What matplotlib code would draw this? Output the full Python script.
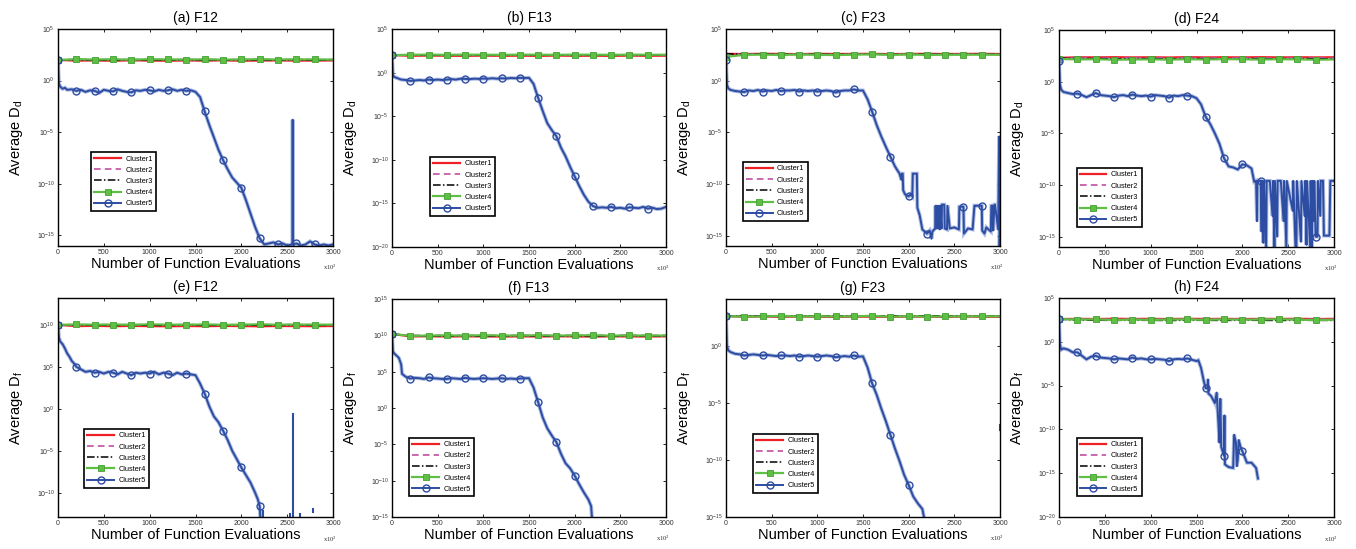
import matplotlib
matplotlib.use("Agg")
import matplotlib.pyplot as plt
import matplotlib.ticker as mticker
import numpy as np

plt.rcParams['font.family'] = ['Liberation Sans', 'DejaVu Sans']
plt.rcParams['mathtext.default'] = 'regular'

# ---------------- data (log10 of the plotted values) ----------------
TOP_X = [0, 200, 400, 600, 800, 1000, 1200, 1400, 1600, 1800, 2000, 2200, 2400, 2600, 2800, 3000]

# (a) F12  D_d
A_C1 = [2.0, 1.93, 1.95, 1.92, 1.96, 1.94, 1.92, 1.95, 1.93, 1.96, 1.92, 1.94, 1.95, 1.93, 1.94, 1.95]
A_C2 = [2.0, 2.04, 2.02, 2.05, 2.03, 2.04, 2.02, 2.05, 2.03, 2.04, 2.02, 2.05, 2.03, 2.04, 2.02, 2.03]
A_C3 = [2.0, 1.98, 2.0, 1.97, 1.99, 2.0, 1.98, 1.97, 2.0, 1.99, 1.98, 2.0, 1.97, 1.99, 1.98, 2.0]
A_C4 = [2.0, 2.08, 2.04, 2.06, 2.03, 2.07, 2.05, 2.04, 2.06, 2.03, 2.05, 2.07, 2.04, 2.06, 2.05, 2.04]
A_X5 = [0, 10, 25, 50, 75, 100, 150, 200, 250, 300, 350, 400, 450, 500, 550, 600, 650, 700, 750, 800,
        850, 900, 950, 1000, 1050, 1100, 1150, 1200, 1250, 1300, 1350, 1400, 1450, 1500, 1550, 1600,
        1650, 1700, 1750, 1800, 1850, 1900, 1950, 2000, 2050, 2100, 2150, 2200, 2250, 2300, 2350, 2400,
        2450, 2500, 2550, 2558, 2560, 2562, 2600, 2650, 2700, 2750, 2800, 2850, 2900, 2950, 3000]
A_Y5 = [2.0, -0.3, -0.6, -0.8, -0.7, -0.9, -0.85, -1.0, -0.9, -1.1, -0.95, -1.0, -1.2, -0.9, -1.0,
        -1.05, -0.85, -1.0, -1.1, -1.15, -0.95, -1.0, -0.9, -0.95, -1.05, -0.9, -1.0, -0.95, -0.85,
        -1.0, -0.9, -1.0, -0.95, -1.1, -1.6, -3.0, -4.3, -5.5, -6.7, -7.7, -8.6, -9.4, -9.9, -10.4,
        -11.6, -12.9, -14.2, -15.3, -15.9, -15.8, -15.7, -15.9, -15.8, -16.0, -15.9, -15.9, -3.8,
        -15.9, -15.8, -16.0, -15.9, -15.6, -15.9, -16.0, -15.9, -16.0, -15.9]

# (b) F13  D_d
B_C1 = [2.0, 1.93, 1.95, 1.94, 1.92, 1.95, 1.93, 1.94, 1.92, 1.95, 1.93, 1.94, 1.92, 1.95, 1.93, 1.94]
B_C2 = [2.0, 2.03, 2.02, 2.04, 2.03, 2.02, 2.04, 2.03, 2.02, 2.04, 2.03, 2.02, 2.04, 2.03, 2.02, 2.03]
B_C3 = [2.0, 1.99, 2.0, 1.98, 2.0, 1.99, 1.98, 2.0, 1.99, 2.0, 1.98, 1.99, 2.0, 1.98, 1.99, 2.0]
B_C4 = [2.0, 2.05, 2.06, 2.04, 2.06, 2.05, 2.04, 2.06, 2.05, 2.04, 2.06, 2.05, 2.04, 2.06, 2.05, 2.05]
B_X5 = [0, 10, 25, 50, 100, 150, 200, 250, 300, 350, 400, 450, 500, 550, 600, 650, 700, 750, 800, 850,
        900, 950, 1000, 1050, 1100, 1150, 1200, 1250, 1300, 1350, 1400, 1450, 1500, 1550, 1600, 1650,
        1700, 1750, 1800, 1850, 1900, 1950, 2000, 2050, 2100, 2150, 2200, 2250, 2300, 2350, 2400, 2450,
        2500, 2550, 2600, 2650, 2700, 2750, 2800, 2850, 2900, 2950, 3000]
B_Y5 = [2.0, -0.3, -0.5, -0.6, -0.8, -0.85, -0.95, -0.9, -0.85, -0.9, -0.8, -0.85, -0.8, -0.85, -0.8,
        -0.75, -0.8, -0.7, -0.72, -0.75, -0.7, -0.72, -0.68, -0.7, -0.65, -0.7, -0.65, -0.68, -0.62,
        -0.65, -0.6, -0.62, -0.6, -1.3, -2.9, -4.4, -5.8, -6.6, -7.3, -8.6, -9.6, -10.8, -11.9, -13.0,
        -14.0, -14.8, -15.3, -15.5, -15.45, -15.5, -15.4, -15.55, -15.5, -15.6, -15.45, -15.5, -15.55,
        -15.4, -15.6, -15.5, -15.65, -15.6, -15.4]

# (c) F23  D_d
C_C1 = [2.6, 2.58, 2.6, 2.59, 2.57, 2.6, 2.58, 2.59, 2.6, 2.57, 2.59, 2.6, 2.58, 2.59, 2.6, 2.58]
C_C2 = [2.6, 2.56, 2.55, 2.57, 2.55, 2.56, 2.54, 2.57, 2.55, 2.56, 2.54, 2.56, 2.55, 2.57, 2.55, 2.56]
C_C3 = [2.6, 2.55, 2.56, 2.54, 2.56, 2.55, 2.53, 2.56, 2.55, 2.54, 2.56, 2.55, 2.54, 2.56, 2.55, 2.54]
C_C4 = [2.3, 2.5, 2.52, 2.49, 2.53, 2.5, 2.48, 2.51, 2.55, 2.5, 2.53, 2.49, 2.51, 2.5, 2.52, 2.5]
C_X5 = [0, 10, 25, 50, 100, 150, 200, 250, 300, 350, 400, 450, 500, 550, 600, 650, 700, 750, 800, 850,
        900, 950, 1000, 1050, 1100, 1150, 1200, 1250, 1300, 1350, 1400, 1450, 1500, 1550, 1600, 1650,
        1700, 1750, 1800, 1850, 1900, 1920, 1925, 1935, 1940, 1960, 2000, 2020, 2040, 2045, 2090, 2095,
        2120, 2150, 2200, 2230, 2250, 2260, 2290, 2295, 2300, 2305, 2320, 2325, 2340, 2345, 2360, 2365,
        2390, 2395, 2420, 2425, 2450, 2500, 2550, 2555, 2600, 2605, 2650, 2700, 2720, 2725, 2800, 2805,
        2830, 2850, 2900, 2905, 2920, 2925, 2940, 2945, 2980, 2990, 2995, 3000]
C_Y5 = [2.0, -0.4, -0.74, -0.9, -1.0, -1.05, -1.1, -0.95, -1.0, -0.9, -1.05, -0.95, -1.0, -0.9, -1.0,
        -0.95, -0.95, -0.9, -1.05, -0.95, -1.0, -0.95, -1.05, -1.0, -0.95, -1.0, -1.15, -1.0, -0.95,
        -0.95, -0.85, -0.95, -0.95, -1.8, -3.0, -4.3, -5.4, -6.4, -7.35, -8.3, -9.0, -9.6, -9.0, -9.0,
        -10.6, -11.0, -11.2, -11.0, -11.2, -9.0, -9.0, -12.3, -13.0, -14.4, -14.8, -14.5, -15.3, -14.6,
        -14.3, -12.1, -14.3, -12.1, -14.3, -12.1, -14.4, -12.1, -14.3, -12.0, -12.0, -14.3, -14.4,
        -12.1, -14.3, -14.2, -14.4, -12.2, -12.2, -14.8, -14.3, -14.4, -12.1, -12.1, -12.1, -14.5,
        -14.8, -14.2, -14.6, -12.1, -12.1, -14.5, -12.0, -12.0, -14.4, -5.4, -16.2, -14.3]

# (d) F24  D_d
D_C1 = [2.3, 2.36, 2.35, 2.37, 2.35, 2.36, 2.34, 2.37, 2.35, 2.36, 2.35, 2.37, 2.35, 2.36, 2.35, 2.36]
D_C2 = [2.3, 2.3, 2.31, 2.29, 2.31, 2.3, 2.29, 2.31, 2.3, 2.29, 2.31, 2.3, 2.29, 2.31, 2.3, 2.3]
D_C3 = [2.3, 2.22, 2.24, 2.21, 2.23, 2.22, 2.2, 2.23, 2.22, 2.21, 2.23, 2.22, 2.2, 2.23, 2.22, 2.21]
D_C4 = [2.2, 2.15, 2.17, 2.12, 2.14, 2.16, 2.13, 2.17, 2.14, 2.18, 2.16, 2.14, 2.17, 2.16, 2.12, 2.15]
D_X5 = [0, 10, 25, 50, 100, 150, 200, 250, 300, 350, 400, 450, 500, 550, 600, 650, 700, 750, 800, 850,
        900, 950, 1000, 1050, 1100, 1150, 1200, 1250, 1300, 1350, 1400, 1450, 1500, 1550, 1600, 1650,
        1700, 1750, 1800, 1850, 1900, 1950, 2000, 2050, 2100, 2130, 2150, 2160, 2165, 2200, 2210, 2215,
        2230, 2235, 2260, 2265, 2300, 2330, 2335, 2350, 2355, 2380, 2385, 2420, 2450, 2455, 2480, 2485,
        2550, 2555, 2580, 2590, 2595, 2640, 2645, 2680, 2685, 2700, 2705, 2740, 2745, 2760, 2765, 2780,
        2785, 2800, 2820, 2825, 2850, 2855, 2880, 2890, 2950, 2960, 3000]
D_Y5 = [2.0, -0.3, -0.8, -1.0, -1.1, -1.2, -1.15, -1.3, -1.5, -1.3, -1.1, -1.3, -1.35, -1.4, -1.5,
        -1.35, -1.3, -1.4, -1.25, -1.35, -1.4, -1.35, -1.45, -1.3, -1.35, -1.4, -1.55, -1.35, -1.4,
        -1.3, -1.35, -1.4, -1.6, -2.2, -3.4, -4.1, -5.0, -6.0, -7.4, -8.2, -8.3, -8.5, -8.0, -8.1,
        -8.4, -9.7, -9.6, -13.5, -9.6, -9.6, -14.5, -9.6, -15.6, -9.6, -16.0, -9.6, -9.6, -13.0, -9.6,
        -16.0, -9.6, -15.0, -9.6, -9.6, -13.5, -9.6, -16.0, -9.6, -12.5, -9.6, -16.0, -16.0, -9.6,
        -15.5, -9.6, -13.0, -9.6, -15.8, -9.6, -16.0, -9.6, -16.0, -9.6, -13.5, -9.6, -15.0, -15.0,
        -9.6, -13.0, -9.6, -9.6, -14.9, -14.9, -9.6, -9.6]

# (e) F12  D_f
E_C1 = [10.0, 9.85, 9.88, 9.84, 9.87, 9.85, 9.83, 9.86, 9.84, 9.87, 9.85, 9.83, 9.86, 9.85, 9.84, 9.86]
E_C2 = [10.0, 10.02, 10.0, 10.03, 10.01, 10.02, 10.0, 10.03, 10.01, 10.02, 10.0, 10.02, 10.01, 10.03, 10.0, 10.02]
E_C3 = [10.0, 9.95, 9.97, 9.94, 9.96, 9.95, 9.93, 9.96, 9.95, 9.94, 9.96, 9.95, 9.93, 9.96, 9.95, 9.94]
E_C4 = [10.0, 10.05, 10.02, 10.04, 10.01, 10.06, 10.03, 10.02, 10.05, 10.01, 10.03, 10.06, 10.02, 10.04, 10.03, 10.02]
E_X5 = [0, 10, 25, 50, 75, 100, 125, 150, 175, 200, 250, 300, 350, 400, 450, 500, 550, 600, 650, 700,
        750, 800, 850, 900, 950, 1000, 1050, 1100, 1150, 1200, 1250, 1300, 1350, 1400, 1450, 1500, 1550,
        1600, 1650, 1700, 1750, 1800, 1850, 1900, 1950, 2000, 2050, 2100, 2150, 2180, 2200, 2210]
E_Y5 = [10.0, 8.5, 8.0, 7.7, 7.2, 6.6, 6.2, 5.7, 5.4, 5.0, 4.7, 4.4, 4.5, 4.3, 4.4, 4.2, 4.4, 4.3, 4.1,
        4.4, 4.2, 4.0, 4.3, 4.2, 4.3, 4.2, 4.4, 4.1, 4.3, 4.2, 4.0, 4.3, 4.1, 4.2, 4.1, 4.0, 3.0, 1.8,
        0.3, -0.9, -1.6, -2.6, -3.7, -5.0, -6.0, -7.0, -7.9, -8.8, -10.0, -10.8, -11.6, -13.5]
# short fragments near the bottom of (e)
E_FRAG_X = [2240, 2530, 2560, 2640, 2780]
E_FRAG_LO = [-13.0, -13.0, -13.0, -13.0, -12.3]
E_FRAG_HI = [-12.2, -12.5, -0.6, -12.5, -11.9]

# (f) F13  D_f
F_C1 = [10.2, 9.85, 9.87, 9.84, 9.86, 9.85, 9.83, 9.86, 9.84, 9.87, 9.85, 9.83, 9.86, 9.85, 9.84, 9.86]
F_C2 = [10.2, 10.0, 9.98, 10.02, 9.99, 10.01, 9.98, 10.02, 10.0, 9.99, 10.01, 9.98, 10.0, 10.02, 9.99, 10.0]
F_C3 = [10.2, 9.9, 9.92, 9.89, 9.91, 9.9, 9.88, 9.91, 9.9, 9.89, 9.91, 9.9, 9.88, 9.91, 9.9, 9.89]
F_C4 = [10.2, 9.93, 9.97, 10.0, 9.96, 10.02, 9.97, 9.98, 10.01, 9.97, 9.99, 10.02, 9.96, 10.0, 9.97, 9.98]
F_X5 = [0, 10, 25, 50, 75, 100, 110, 150, 200, 250, 300, 350, 400, 450, 500, 550, 600, 650, 700, 750,
        800, 850, 900, 950, 1000, 1050, 1100, 1150, 1200, 1250, 1300, 1350, 1400, 1450, 1500, 1550, 1600,
        1650, 1700, 1750, 1800, 1850, 1900, 1950, 2000, 2050, 2100, 2150, 2180, 2190]
F_Y5 = [10.2, 7.8, 7.5, 7.2, 6.9, 6.0, 4.7, 4.3, 4.05, 4.15, 4.1, 4.0, 4.2, 4.1, 4.05, 4.0, 4.0, 4.1,
        4.05, 4.0, 4.15, 4.05, 4.0, 4.05, 4.1, 4.05, 4.0, 4.05, 4.1, 4.0, 4.05, 4.0, 4.05, 4.1, 4.1, 2.8,
        0.8, -1.3, -2.8, -3.8, -4.7, -6.3, -7.6, -8.3, -9.3, -10.5, -11.6, -12.6, -13.5, -15.2]

# (g) F23  D_f
G_C1 = [2.6, 2.55, 2.57, 2.54, 2.56, 2.55, 2.53, 2.56, 2.55, 2.54, 2.56, 2.55, 2.53, 2.56, 2.55, 2.54]
G_C2 = [2.6, 2.58, 2.6, 2.57, 2.59, 2.58, 2.6, 2.57, 2.59, 2.58, 2.6, 2.58, 2.57, 2.59, 2.58, 2.6]
G_C3 = [2.6, 2.63, 2.61, 2.64, 2.62, 2.63, 2.61, 2.64, 2.62, 2.63, 2.61, 2.63, 2.62, 2.64, 2.61, 2.63]
G_C4 = [2.6, 2.55, 2.58, 2.62, 2.56, 2.6, 2.57, 2.58, 2.63, 2.55, 2.6, 2.56, 2.58, 2.57, 2.59, 2.58]
G_X5 = [0, 10, 25, 50, 100, 150, 200, 250, 300, 350, 400, 450, 500, 550, 600, 650, 700, 750, 800, 850,
        900, 950, 1000, 1050, 1100, 1150, 1200, 1250, 1300, 1350, 1400, 1450, 1500, 1550, 1600, 1650,
        1700, 1750, 1800, 1850, 1900, 1950, 2000, 2050, 2100, 2150, 2170]
G_Y5 = [2.6, 0.0, -0.4, -0.55, -0.7, -0.75, -0.85, -0.8, -0.75, -0.8, -0.85, -0.8, -0.85, -0.9, -0.85,
        -0.85, -0.9, -0.85, -0.95, -0.9, -0.85, -0.9, -0.95, -0.9, -0.85, -0.9, -1.0, -0.95, -0.9, -0.95,
        -0.85, -0.95, -0.93, -1.9, -3.3, -4.3, -5.5, -6.6, -7.8, -9.0, -10.1, -11.3, -12.2, -13.2, -13.8,
        -14.3, -15.1]
G_FRAG_X = [2995]
G_FRAG_LO = [-7.4]
G_FRAG_HI = [-6.9]

# (h) F24  D_f
H_C1 = [2.6, 2.62, 2.6, 2.63, 2.61, 2.62, 2.6, 2.63, 2.61, 2.62, 2.6, 2.62, 2.61, 2.63, 2.6, 2.62]
H_C2 = [2.6, 2.58, 2.57, 2.59, 2.57, 2.58, 2.56, 2.59, 2.57, 2.58, 2.56, 2.58, 2.57, 2.59, 2.57, 2.58]
H_C3 = [2.6, 2.45, 2.47, 2.44, 2.46, 2.45, 2.43, 2.46, 2.45, 2.44, 2.46, 2.45, 2.43, 2.46, 2.45, 2.44]
H_C4 = [2.6, 2.52, 2.56, 2.48, 2.54, 2.5, 2.53, 2.55, 2.5, 2.56, 2.52, 2.54, 2.57, 2.52, 2.48, 2.52]
H_X5 = [0, 10, 25, 50, 100, 150, 200, 250, 300, 350, 400, 450, 500, 550, 600, 650, 700, 750, 800, 850,
        900, 950, 1000, 1050, 1100, 1150, 1200, 1250, 1300, 1350, 1400, 1450, 1500, 1520, 1550, 1580,
        1600, 1620, 1625, 1630, 1660, 1700, 1720, 1740, 1750, 1760, 1770, 1800, 1805, 1810, 1850, 1900,
        1910, 1930, 1940, 1950, 1960, 1980, 2000, 2020, 2050, 2100, 2150, 2170]
H_Y5 = [2.6, -0.3, -0.9, -0.75, -0.9, -1.2, -1.2, -1.6, -2.0, -1.7, -1.6, -1.8, -1.85, -1.9, -2.0,
        -1.9, -1.95, -2.0, -1.8, -1.95, -1.9, -2.0, -2.0, -1.95, -2.0, -2.05, -2.2, -2.0, -1.95, -2.0,
        -1.9, -2.05, -2.2, -2.1, -3.0, -4.5, -5.3, -5.3, -4.3, -5.9, -6.2, -7.0, -5.8, -9.5, -11.5,
        -6.5, -12.0, -13.0, -8.4, -14.0, -14.3, -14.4, -10.6, -11.5, -14.2, -13.5, -11.2, -12.0, -12.5,
        -13.0, -13.8, -13.8, -14.4, -15.6]

TITLES = ['(a) F12', '(b) F13', '(c) F23', '(d) F24', '(e) F12', '(f) F13', '(g) F23', '(h) F24']
YLABELS = ['Average D$_d$'] * 4 + ['Average D$_f$'] * 4
LEGEND_LABELS = ['Cluster1', 'Cluster2', 'Cluster3', 'Cluster4', 'Cluster5']
XTICKS = [0, 500, 1000, 1500, 2000, 2500, 3000]

# ---------------- layout / style ----------------
W, H = 1356, 549
BOXES = [(58, 29, 333, 246), (392, 29, 666, 247), (726, 29, 1000, 246), (1059, 30, 1334, 247),
         (58, 298, 333, 517), (392, 299, 666, 517), (726, 299, 1000, 517), (1059, 298, 1334, 517)]
YLIMS = [(-16.05, 5), (-20, 5), (-16, 5), (-16, 5), (-12.9, 13.2), (-15, 15), (-15, 4.1), (-20, 5)]
LEG_POS = [(0.12, 0.433), (0.139, 0.413), (0.061, 0.387), (0.064, 0.364),
           (0.095, 0.402), (0.062, 0.364), (0.099, 0.381), (0.064, 0.362)]

RED = '#ee1f25'
MAG = '#c04fa0'
GREEN = '#5fbf45'
BLUE = '#2d4da2'
HALO = '#8ea2d8'

panels = [
    (A_C1, A_C2, A_C3, A_C4, A_X5, A_Y5, None),
    (B_C1, B_C2, B_C3, B_C4, B_X5, B_Y5, None),
    (C_C1, C_C2, C_C3, C_C4, C_X5, C_Y5, None),
    (D_C1, D_C2, D_C3, D_C4, D_X5, D_Y5, None),
    (E_C1, E_C2, E_C3, E_C4, E_X5, E_Y5, (E_FRAG_X, E_FRAG_LO, E_FRAG_HI)),
    (F_C1, F_C2, F_C3, F_C4, F_X5, F_Y5, None),
    (G_C1, G_C2, G_C3, G_C4, G_X5, G_Y5, (G_FRAG_X, G_FRAG_LO, G_FRAG_HI)),
    (H_C1, H_C2, H_C3, H_C4, H_X5, H_Y5, None),
]

fig = plt.figure(figsize=(W / 100, H / 100), dpi=100)

for i, (c1, c2, c3, c4, x5, y5, frag) in enumerate(panels):
    l, t, r, b = BOXES[i]
    ax = fig.add_axes([l / W, (H - b) / H, (r - l) / W, (b - t) / H])
    tx = np.array(TOP_X)
    mk_top = [xx % 200 == 0 and xx <= 2800 for xx in TOP_X]
    h1, = ax.plot(tx, 10 ** np.array(c1), color=RED, lw=1.6, label='Cluster1')
    h2, = ax.plot(tx, 10 ** np.array(c2), color=MAG, lw=1.2, ls=(0, (4, 2.5)), label='Cluster2')
    h3, = ax.plot(tx, 10 ** np.array(c3), color='black', lw=1.1, ls=(0, (5, 1.5, 1, 1.5)), label='Cluster3')
    h4, = ax.plot(tx, 10 ** np.array(c4), color=GREEN, lw=1.6, marker='s', ms=4, mfc=GREEN,
                  mec='#45a035', mew=0.6, markevery=mk_top, label='Cluster4')
    n = min(len(x5), len(y5))
    xb = np.array(x5[:n], dtype=float)
    yb = 10 ** np.array(y5[:n])
    ax.plot(xb, yb, color=HALO, lw=2.8, alpha=0.7, solid_joinstyle='miter')
    mk5 = [xx % 200 == 0 and xx <= 2800 for xx in x5[:n]]
    h5, = ax.plot(xb, yb, color=BLUE, lw=1.4, marker='o', ms=5, mfc='none', mec=BLUE, mew=1.0,
                  markevery=mk5, label='Cluster5')
    if frag is not None:
        for fx, lo, hi in zip(*frag):
            ax.plot([fx, fx], [10 ** lo, 10 ** hi], color=BLUE, lw=1.5)

    ax.set_yscale('log')
    y0, y1 = YLIMS[i]
    ax.set_ylim(10 ** y0, 10 ** y1)
    ax.set_xlim(0, 3000)
    ticks = [10.0 ** k for k in range(-20, 16, 5) if y0 - 1e-6 <= k <= y1 + 1e-6]
    ax.yaxis.set_major_locator(mticker.FixedLocator(ticks))
    ax.yaxis.set_minor_locator(mticker.NullLocator())
    ax.yaxis.set_major_formatter(mticker.LogFormatterSciNotation())
    ax.set_xticks(XTICKS)
    ax.set_xticklabels([str(v) for v in XTICKS])
    ax.tick_params(direction='in', top=True, right=True, length=2.5, width=0.6,
                   labelsize=5, pad=2.5, labelcolor='#333333')
    for sp in ax.spines.values():
        sp.set_linewidth(1.0)

    ax.set_title(TITLES[i], fontsize=10, pad=5)
    ax.set_xlabel('Number of Function Evaluations', fontsize=10.5)
    ax.xaxis.set_label_coords(0.5, -0.05)
    ax.set_ylabel(YLABELS[i], fontsize=10.5)
    ax.yaxis.set_label_coords(-0.12, 0.5)
    ax.text(0.962, -0.1, 'x10$^2$', transform=ax.transAxes, fontsize=4.8,
            family='Liberation Serif', ha='left', va='center', color='#333333')

    lx, ly = LEG_POS[i]
    leg = ax.legend(handles=[h1, h2, h3, h4, h5], labels=LEGEND_LABELS, loc='upper left',
                    bbox_to_anchor=(lx, ly), fontsize=5.3, handlelength=3.6, handletextpad=0.6,
                    labelspacing=0.55, borderpad=0.45, borderaxespad=0, frameon=True,
                    fancybox=False, framealpha=1, edgecolor='black')
    leg.get_frame().set_linewidth(1.2)

fig.savefig('out.png', dpi=100)
